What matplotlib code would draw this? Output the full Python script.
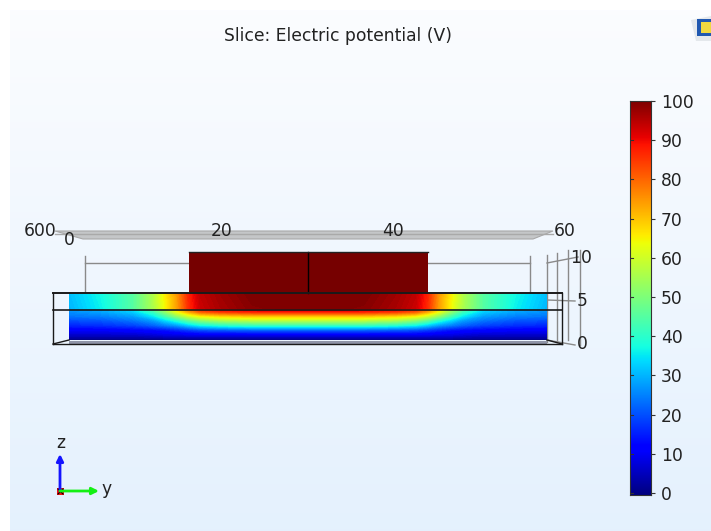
import numpy as np
import matplotlib
matplotlib.use('Agg')
import matplotlib.pyplot as plt
from matplotlib.patches import Polygon, Rectangle

y_half = [0, 4, 8, 10.5, 12, 13.5, 15, 16.5, 19, 23, 30]
z_rows = [0, 0.59, 1.18, 1.76, 2.35, 2.82, 3.29, 3.65, 3.7, 5.53]
v_z0 = [0, 0, 0, 0, 0, 0, 0, 0, 0, 0, 0]
v_z1 = [6, 6, 6, 7, 8, 8, 9, 9, 9, 9, 9]
v_z2 = [11, 11, 12, 13, 14, 16, 18, 20, 21, 22, 22]
v_z3 = [16, 17, 19, 22, 25, 28, 33, 37, 40, 42, 42]
v_z4 = [20, 21, 24, 28, 34, 40, 47, 52, 56, 58, 58]
v_z5 = [24, 25, 28, 35, 43, 52, 60, 65, 68, 70, 70]
v_z6 = [26, 28, 32, 41, 51, 62, 72, 80, 84, 86, 86]
v_z7 = [28, 30, 35, 46, 56, 68, 79, 88, 92, 95, 96]
v_z8 = [30, 36, 45, 55, 64, 73, 86, 93, 96, 99, 100]
v_z9 = [31, 37, 45, 56, 65, 74, 87, 94, 97, 100, 100]

cbar_ticks = [0, 10, 20, 30, 40, 50, 60, 70, 80, 90, 100]
top_labels = ['600', '0', '20', '40', '60']
side_labels = ['10', '5', '0']

W, H = 711, 531
LABEL_SIZE = 12.3
fig = plt.figure(figsize=(W / 100, H / 100), dpi=100)
plt.rcParams['font.family'] = 'DejaVu Sans'


def px_axes(x0, y0, x1, y1, **kw):
    return fig.add_axes([x0 / W, 1 - y1 / H, (x1 - x0) / W, (y1 - y0) / H], **kw)


# page, everything decorative is placed in pixel coordinates
bg = fig.add_axes([0, 0, 1, 1])
bg.set_xlim(0, W)
bg.set_ylim(H, 0)
bg.axis('off')
grad = np.linspace(0, 1, 256).reshape(-1, 1)
top_c = np.array([0.985, 0.99, 1.0])
bot_c = np.array([0.895, 0.945, 0.995])
bg.imshow(top_c + grad[..., None] * (bot_c - top_c), extent=[10, W, H, 10], aspect='auto', zorder=0)
bg.set_xlim(0, W)
bg.set_ylim(H, 0)

bg.text(338, 36, 'Slice: Electric potential (V)', ha='center', va='center', fontsize=LABEL_SIZE, color='#222222')

# plate above the block
bg.add_patch(Polygon([(55, 231), (553, 231), (533, 239), (83, 239)], fc='#c4c6c8', ec='#a8a8a8', lw=0.8))
bg.plot([55, 553], [234, 234], color='#a9a9a9', lw=1)

# dimension lines
grey = '#8a8a8a'
for xs, ys in [([85, 85], [256, 292]), ([85, 189], [263, 263]), ([427, 530], [263, 263]), ([530, 530], [256, 292]),
               ([547, 547], [255, 342]), ([557, 557], [253, 342]), ([568, 568], [250, 340]), ([580, 580], [250, 345]),
               ([547, 578], [263, 257]), ([547, 575], [300, 301]), ([547, 575], [340, 345])]:
    bg.plot(xs, ys, color=grey, lw=1, zorder=1)

# slice
ax = px_axes(69, 293, 547, 340)
y = np.array(y_half + [60 - v for v in y_half[-2::-1]])
rows = [v_z0, v_z1, v_z2, v_z3, v_z4, v_z5, v_z6, v_z7, v_z8, v_z9]
field = np.array([r + r[-2::-1] for r in rows], dtype=float)
ax.contourf(y, z_rows, field, levels=np.linspace(0, 100, 129), cmap='jet', vmin=0, vmax=100, antialiased=False, extend='both')
ax.set_xlim(0, 60)
ax.set_ylim(0, 5.53)
ax.axis('off')

# block on top of the slice
ax.bar(30, 10.35 - 5.53, width=30, bottom=5.53, color='#760000', edgecolor='none', clip_on=False)
ax.plot([30, 30], [5.53, 10.35], color='black', lw=1, clip_on=False)
ax.plot([15, 45], [10.35, 10.35], color='#222222', lw=1, clip_on=False)

# frame of the geometry
fg = fig.add_axes([0, 0, 1, 1])
fg.set_xlim(0, W)
fg.set_ylim(H, 0)
fg.axis('off')
fg.patch.set_alpha(0)
fg.add_patch(Rectangle((69, 340.5), 478, 3, fc='#8f95a8', ec='none'))
black = '#1a1a1a'
for xs, ys, lw in [([53, 562], [292.5, 292.5], 1.4), ([53, 562], [309.5, 309.5], 1.2), ([53, 53], [293, 344], 1),
                   ([562, 562], [293, 344], 1), ([53, 69], [344, 340], 1), ([547, 562], [340, 344], 1),
                   ([53, 562], [344, 344], 1)]:
    fg.plot(xs, ys, color=black, lw=lw)

for s, (tx, ty) in zip(top_labels, [(40, 231), (69, 240), (222, 231), (393, 231), (565, 231)]):
    fg.text(tx, ty, s, ha='center', va='center', fontsize=LABEL_SIZE, color='#222222')
for s, (tx, ty) in zip(side_labels, [(581, 258), (582, 301), (582, 344)]):
    fg.text(tx, ty, s, ha='center', va='center', fontsize=LABEL_SIZE, color='#222222')

# axis triad
fg.annotate('', xy=(60, 454), xytext=(60, 491), arrowprops=dict(arrowstyle='-|>', color='#1414ff', lw=2, shrinkA=0, shrinkB=0))
fg.annotate('', xy=(99, 491), xytext=(60, 491), arrowprops=dict(arrowstyle='-|>', color='#14f014', lw=2, shrinkA=0, shrinkB=0))
fg.add_patch(Rectangle((57, 488), 7, 7, fc='#f01010', ec='none'))
fg.plot([58, 63], [489, 494], color='black', lw=0.8)
fg.plot([58, 63], [494, 489], color='black', lw=0.8)
fg.text(61, 443, 'z', ha='center', va='center', fontsize=LABEL_SIZE, color='#222222')
fg.text(107, 489, 'y', ha='center', va='center', fontsize=LABEL_SIZE, color='#222222')

# toolbar icon in the corner
fg.add_patch(Polygon([(691, 20), (711, 16), (711, 41), (696, 41)], fc='#e4e8ec', ec='none'))
fg.add_patch(Rectangle((697, 19), 14, 17, fc='#2058b0', ec='none'))
fg.add_patch(Polygon([(701, 22), (711, 22), (711, 33), (701, 33)], fc='#f0d840', ec='none'))

# colour bar
cax = px_axes(630, 101, 651, 495)
cax.imshow(np.linspace(100, 0, 256).reshape(-1, 1), cmap='jet', aspect='auto', extent=[0, 1, -0.5, 100], vmin=0, vmax=100)
cax.set_xticks([])
cax.yaxis.tick_right()
cax.set_yticks(cbar_ticks)
cax.set_yticklabels([str(t) for t in cbar_ticks], fontsize=LABEL_SIZE, color='#222222')
cax.tick_params(axis='y', length=3, width=0.8, pad=4, color='#333333')
for t in cbar_ticks:
    cax.plot([0, 0.12], [t, t], color='#333333', lw=0.8)
cax.set_xlim(0, 1)
cax.set_ylim(-0.5, 100)
for s in cax.spines.values():
    s.set_linewidth(0.8)
    s.set_color('#333333')

fig.savefig('out.png', dpi=100)
